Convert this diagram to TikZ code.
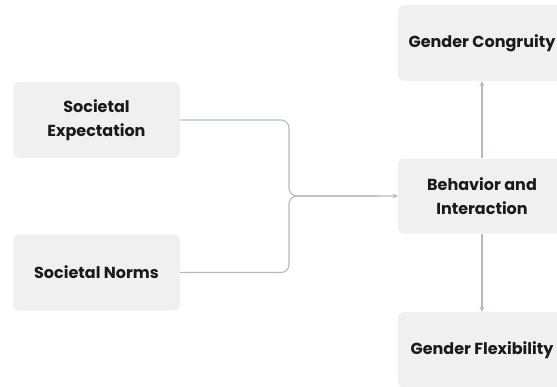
\documentclass[tikz,border=0pt]{standalone}
\usepackage{fontspec}
\setmainfont{Poppins}
\usetikzlibrary{arrows.meta}
\definecolor{boxfill}{HTML}{F0F0F0}
\definecolor{linec}{HTML}{B0BCC5}
\definecolor{txt}{HTML}{1A1A1A}
\begin{document}
\begin{tikzpicture}[x=1pt,y=-1pt,
  box/.style={fill=boxfill, rounded corners=6pt, inner sep=0pt, align=center,
    font=\fontsize{16}{24}\selectfont\bfseries, text=txt},
  conn/.style={draw=linec, line width=1.1pt, rounded corners=8pt},
  tip/.style={-{Stealth[length=5pt,width=5pt]}}]
\useasboundingbox (0,0) rectangle (557,386);
\clip (0,0) rectangle (557,386);
\node[box, minimum width=167pt, minimum height=76pt] (se) at (96.5,120) {Societal\\Expectation};
\node[box, minimum width=167pt, minimum height=76pt] (sn) at (96.5,272.5) {Societal Norms};
\node[box, minimum width=168pt, minimum height=75pt] (bi) at (482,196) {Behavior and\\Interaction};
\node[box, minimum width=168pt, minimum height=76pt] (gc) at (482,43) {Gender Congruity};
\node[box, minimum width=168pt, minimum height=76pt] (gf) at (482,350) {Gender Flexibility};
\coordinate (j) at (289,196);
\draw[conn, tip] (se.east) -- (se.east -| j) -- (j) -- (bi.west);
\draw[conn] (sn.east) -- (sn.east -| j) -- (j) -- ([xshift=-20pt]bi.west);
\draw[conn, tip, rounded corners=0pt] (bi.north) -- (gc.south);
\draw[conn, tip, rounded corners=0pt] (bi.south) -- (gf.north);
\end{tikzpicture}
\end{document}
